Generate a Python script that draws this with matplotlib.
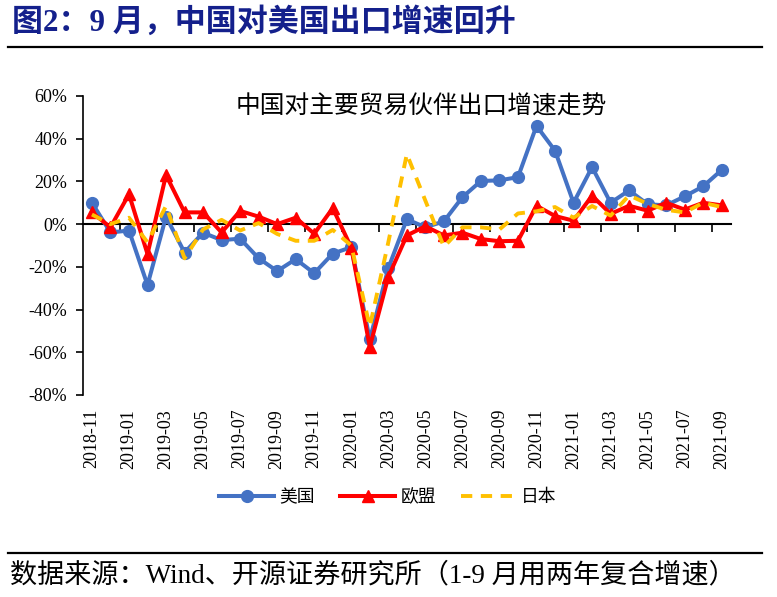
import numpy as np
import matplotlib
matplotlib.use("Agg")
import matplotlib.pyplot as plt
from matplotlib.ticker import FuncFormatter

plt.rcParams['font.family'] = ['Liberation Serif', 'Noto Sans CJK SC', 'DejaVu Sans']
plt.rcParams['axes.unicode_minus'] = False

# Data (%), monthly 2018-11 .. 2021-09
months = ['2018-11', '2018-12', '2019-01', '2019-02', '2019-03', '2019-04', '2019-05',
          '2019-06', '2019-07', '2019-08', '2019-09', '2019-10', '2019-11', '2019-12',
          '2020-01', '2020-02', '2020-03', '2020-04', '2020-05', '2020-06', '2020-07',
          '2020-08', '2020-09', '2020-10', '2020-11', '2020-12', '2021-01', '2021-02',
          '2021-03', '2021-04', '2021-05', '2021-06', '2021-07', '2021-08', '2021-09']
usa = [10, -3.9, -3, -28.5, 3.5, -13.3, -4, -7.5, -6.8, -16, -22, -16.4, -23, -13.8,
       -10.8, -54, -20.6, 2.3, -1.5, 1.3, 12.6, 20.2, 20.5, 22, 46, 34.4, 10, 26.7,
       10, 15.8, 9.3, 8.8, 13, 17.7, 25.4]
eu = [5.5, -1.5, 14, -14, 23, 5.5, 5.5, -3.9, 6.2, 3.5, 0, 3, -4.5, 7.5,
      -11, -57.5, -24.7, -5.3, -1, -5.3, -4, -7, -8, -7.8, 8.6, 3.8, 1.6, 13.3,
      4.8, 8.6, 6.3, 10, 6.8, 10, 8.8]
japan = [4.5, 0, 3, -8.5, 8.5, -16, -2.5, 2, -3, 0.5, -4.6, -7.8, -7.8, -2.7,
         -10, -48, -8.5, 32.8, 11, -10.6, -1.5, -1.5, -2.5, 5, 6, 8, 3, 8.5,
         4, 13.5, 9.5, 6.7, 5.5, 10, 8]

x = np.arange(len(months))

fig = plt.figure(figsize=(7.77, 5.97), dpi=100)
ax = fig.add_axes([0.1064, 0.3384, 0.8344, 0.5008])

ax.plot(x, usa, color='#4472C4', lw=2.9, marker='o', ms=8.5, label='美国')
ax.plot(x, eu, color='#FF0000', lw=2.9, marker='^', ms=9, label='欧盟')
ax.plot(x, japan, color='#FFC000', lw=2.8, dashes=(2.9, 2.2), label='日本')

ax.set_xlim(-0.5, len(months) - 0.5)
ax.set_ylim(-80, 60)
ax.set_yticks(range(-80, 61, 20))
ax.yaxis.set_major_formatter(FuncFormatter(lambda v, p: f"{int(v)}%"))
ax.set_xticks(x[::2])
ax.set_xticklabels(months[::2], rotation=90)
ax.tick_params(axis='x', length=0, labelsize=13, pad=10)
ax.tick_params(axis='y', length=5, width=1.2, labelsize=13, direction='out', pad=6)

for s in ['top', 'right', 'bottom']:
    ax.spines[s].set_visible(False)
ax.spines['left'].set_linewidth(1.2)

# zero line with ticks between every two months
sec = ax.secondary_xaxis(80 / 140)
sec.set_alignment('bottom')
sec.set_xticks(np.arange(1.5, len(months) - 1, 2))
sec.tick_params(axis='x', direction='out', length=6, width=1.2, labelbottom=False, labeltop=False)
sec.spines['bottom'].set_linewidth(1.5)

ax.text(0.522, 0.965, '中国对主要贸易伙伴出口增速走势', transform=ax.transAxes,
        ha='center', va='center', fontsize=17.8, family=['Noto Sans CJK SC'])

ax.legend(loc='center', bbox_to_anchor=(388 / 777, 1 - 497 / 597),
          bbox_transform=fig.transFigure, ncol=3, frameon=False,
          handlelength=3.1, columnspacing=1.4, handletextpad=0.3,
          prop={'family': ['Noto Sans CJK SC'], 'size': 12.8})

# header and footer
fig.text(12 / 777, 1 - 22 / 597, '图2：9 月，中国对美国出口增速回升', ha='left', va='center',
         fontsize=22.3, fontweight='bold', color='#14208C')
fig.add_artist(plt.Line2D([8 / 777, 762 / 777], [1 - 47 / 597, 1 - 47 / 597],
                          color='black', lw=1.6, transform=fig.transFigure))
fig.add_artist(plt.Line2D([8 / 777, 762 / 777], [1 - 553 / 597, 1 - 553 / 597],
                          color='black', lw=1.6, transform=fig.transFigure))
fig.text(10 / 777, 1 - 576 / 597, '数据来源：Wind、开源证券研究所（1-9 月用两年复合增速）',
         ha='left', va='center', fontsize=19.5)

fig.savefig('out.png', dpi=100, facecolor='white')
